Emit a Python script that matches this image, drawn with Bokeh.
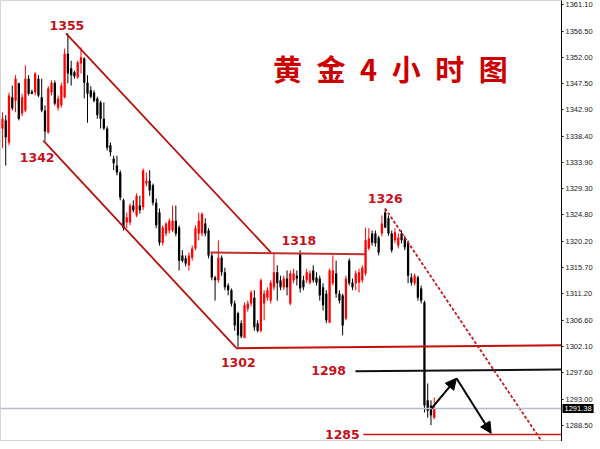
from bokeh.plotting import figure
from bokeh.models import (Range1d, FixedTicker, PrintfTickFormatter, Label, Arrow,
                          NormalHead, Span, ColumnDataSource)
from bokeh.embed import file_html
from bokeh.resources import INLINE
from bokeh.core.properties import value

# ---------------- data: 4-hour gold candles (price) ----------------
opens = [1339.7, 1341.1, 1337.3, 1345.1, 1344.5, 1347.5, 1342.3, 1342.8, 1348.3, 1346.1,
         1345.9, 1348.3, 1345.1, 1342.8, 1339.0, 1345.9, 1347.6, 1343.3, 1343.7, 1345.1,
         1352.6, 1350.1, 1349.4, 1348.5, 1350.9, 1351.8, 1347.6, 1346.3, 1345.9, 1344.9,
         1344.2, 1341.4, 1339.7, 1336.8, 1334.5, 1333.3, 1332.1, 1327.3, 1323.5, 1323.5,
         1326.4, 1324.7, 1326.4, 1326.1, 1330.2, 1330.7, 1329.9, 1326.9, 1325.2, 1320.0,
         1321.6, 1322.1, 1322.1, 1323.8, 1322.6, 1317.8, 1317.3, 1316.1, 1317.4, 1319.0,
         1321.6, 1321.6, 1323.3, 1322.1, 1317.8, 1314.0, 1313.5, 1317.4, 1314.9, 1312.6,
         1311.8, 1309.5, 1307.8, 1306.1, 1303.6, 1308.6, 1309.5, 1310.5, 1306.1, 1304.8,
         1309.5, 1310.5, 1310.0, 1312.3, 1314.9, 1313.5, 1312.3, 1313.8, 1309.5, 1313.5,
         1314.3, 1318.1, 1313.5, 1313.5, 1313.1, 1315.2, 1314.0, 1313.8, 1312.3, 1311.2,
         1306.2, 1313.0, 1314.7, 1311.2, 1310.9, 1306.9, 1316.9, 1313.1, 1313.0, 1313.1,
         1313.5, 1314.7, 1319.0, 1321.6, 1321.6, 1320.9, 1321.6, 1325.2, 1324.2, 1321.6,
         1320.4, 1319.5, 1321.6, 1320.7, 1319.9, 1314.0, 1313.0, 1314.0, 1312.1, 1309.7,
         1292.8, 1291.9, 1289.8]
highs = [1342.5, 1342.0, 1345.9, 1347.1, 1348.9, 1347.6, 1345.7, 1350.6, 1348.9, 1346.4,
         1349.4, 1348.9, 1348.3, 1343.7, 1347.0, 1348.0, 1348.0, 1345.4, 1347.6, 1353.5,
         1356.1, 1351.4, 1349.7, 1351.4, 1353.7, 1352.0, 1348.9, 1347.0, 1346.3, 1345.2,
         1344.5, 1344.2, 1340.1, 1337.3, 1335.0, 1335.0, 1332.5, 1327.6, 1325.2, 1326.8,
         1327.3, 1328.5, 1328.1, 1332.8, 1332.1, 1332.5, 1330.2, 1327.6, 1325.9, 1323.0,
         1323.5, 1324.2, 1326.4, 1326.4, 1323.0, 1318.7, 1317.8, 1318.3, 1319.5, 1323.0,
         1325.2, 1325.2, 1324.2, 1322.5, 1318.3, 1314.3, 1320.4, 1317.8, 1315.7, 1313.0,
         1312.1, 1310.0, 1308.1, 1306.6, 1309.7, 1310.0, 1311.8, 1311.8, 1306.6, 1313.8,
         1311.8, 1312.3, 1313.5, 1318.3, 1316.1, 1314.3, 1314.3, 1315.2, 1315.2, 1315.5,
         1315.2, 1318.7, 1314.3, 1315.5, 1315.2, 1316.1, 1314.9, 1314.3, 1313.0, 1311.8,
         1315.5, 1317.8, 1316.9, 1311.8, 1311.2, 1314.3, 1317.3, 1313.8, 1315.2, 1315.5,
         1316.1, 1322.6, 1322.5, 1322.1, 1322.1, 1321.2, 1324.7, 1325.9, 1324.7, 1322.1,
         1322.5, 1321.6, 1322.1, 1321.2, 1320.4, 1314.7, 1314.7, 1314.3, 1312.6, 1310.0,
         1295.7, 1292.8, 1293.3]
lows = [1336.3, 1333.3, 1336.8, 1342.8, 1342.5, 1341.1, 1341.8, 1342.5, 1345.4, 1345.6,
        1345.4, 1345.1, 1342.5, 1337.6, 1338.8, 1345.4, 1343.7, 1342.8, 1343.3, 1344.9,
        1347.5, 1347.1, 1348.3, 1348.3, 1349.2, 1344.9, 1340.7, 1344.9, 1344.2, 1341.4,
        1339.7, 1339.4, 1335.9, 1334.9, 1332.5, 1331.6, 1327.3, 1322.1, 1322.5, 1323.0,
        1325.2, 1324.4, 1325.0, 1325.6, 1329.7, 1328.1, 1326.4, 1322.5, 1319.5, 1319.5,
        1321.1, 1321.6, 1321.8, 1321.1, 1315.2, 1316.6, 1315.9, 1315.2, 1316.9, 1318.7,
        1320.4, 1321.1, 1321.1, 1317.3, 1313.5, 1310.0, 1313.1, 1314.3, 1311.8, 1310.9,
        1309.0, 1304.8, 1301.9, 1303.5, 1303.5, 1308.1, 1309.0, 1304.8, 1304.5, 1304.5,
        1306.6, 1310.0, 1309.5, 1311.8, 1310.0, 1311.8, 1311.8, 1310.9, 1309.2, 1313.0,
        1312.6, 1311.4, 1311.8, 1313.0, 1312.8, 1313.1, 1312.6, 1310.0, 1308.3, 1306.1,
        1306.1, 1312.6, 1310.5, 1309.5, 1304.0, 1306.6, 1312.6, 1311.8, 1311.8, 1311.4,
        1313.1, 1314.3, 1318.7, 1319.5, 1319.3, 1317.8, 1321.1, 1322.5, 1321.2, 1318.3,
        1319.9, 1319.0, 1319.9, 1318.7, 1313.0, 1312.6, 1312.6, 1310.0, 1309.5, 1290.7,
        1289.8, 1288.5, 1289.5]
closes = [1341.4, 1338.2, 1345.4, 1343.2, 1348.3, 1341.4, 1345.1, 1348.3, 1345.7, 1345.7,
          1349.2, 1345.4, 1342.8, 1339.2, 1346.6, 1347.6, 1344.0, 1344.9, 1347.1, 1352.6,
          1349.2, 1348.9, 1348.7, 1351.1, 1352.0, 1347.6, 1345.7, 1345.2, 1344.5, 1342.0,
          1341.4, 1339.7, 1336.4, 1335.6, 1333.7, 1332.1, 1327.8, 1322.5, 1324.4, 1326.4,
          1325.6, 1328.1, 1325.6, 1332.5, 1330.7, 1329.0, 1326.9, 1323.0, 1320.0, 1322.6,
          1323.3, 1323.8, 1323.8, 1321.6, 1316.9, 1316.9, 1316.4, 1317.8, 1319.0, 1322.5,
          1323.8, 1325.0, 1321.6, 1317.8, 1314.0, 1313.5, 1317.4, 1314.9, 1312.3, 1311.8,
          1309.5, 1305.7, 1304.0, 1303.8, 1309.2, 1309.5, 1311.4, 1305.4, 1304.8, 1313.5,
          1311.2, 1311.8, 1313.1, 1314.9, 1313.0, 1312.3, 1313.8, 1312.3, 1314.7, 1314.7,
          1313.8, 1312.1, 1312.3, 1314.9, 1314.7, 1313.5, 1313.1, 1310.9, 1309.2, 1306.6,
          1315.2, 1315.2, 1311.2, 1310.0, 1305.7, 1313.8, 1313.0, 1312.3, 1314.7, 1314.9,
          1315.7, 1320.4, 1320.7, 1320.0, 1319.9, 1318.3, 1323.3, 1322.6, 1321.6, 1318.7,
          1321.8, 1320.9, 1320.4, 1319.2, 1314.3, 1313.1, 1314.3, 1310.5, 1310.0, 1291.9,
          1291.0, 1290.2, 1291.4]

price_ticks = [1361.10, 1356.50, 1352.00, 1347.50, 1342.90, 1338.40, 1333.90, 1329.30,
               1324.80, 1320.20, 1315.70, 1311.20, 1306.60, 1302.10, 1297.60, 1293.00,
               1288.50]
last_price = 1291.38

# ---------------- annotation data (bar index, price) ----------------
channel_upper_x = [19.4, 82.1]
channel_upper_y = [1356.1, 1318.3]
channel_lower_x = [12.5, 71.4]
channel_lower_y = [1337.6, 1301.9]
res_1318_x = [63.6, 110.9]
res_1318_y = [1318.3, 1318.0]
sup_1302_x = [71.4, 171.5]
sup_1302_y = [1301.8, 1302.3]
lvl_1298_x = [107.9, 171.5]
lvl_1298_y = [1297.8, 1298.1]
lvl_1285_x = [110.3, 171.5]
lvl_1285_y = [1286.9, 1286.9]
trend_x = [117.0, 170.0]
trend_y = [1325.9, 1281.4]
path_x = [131.2, 138.8, 149.4]
path_y = [1291.4, 1296.6, 1287.1]

level_labels = ["1355", "1342", "1318", "1326", "1302", "1298", "1285"]
level_label_x = [19.7, 10.6, 90.6, 117.0, 72.1, 99.7, 103.9]
level_label_y = [1357.5, 1334.7, 1320.4, 1327.6, 1299.3, 1297.9, 1286.9]

title_text = "黄\u2002金\u20024\u2002小\u2002时\u2002图"
title_x, title_y = 118.6, 1350.2

X_LEFT, X_RIGHT = -0.6, 170.9
FRAME_W, FRAME_H = 561, 441

# ---------------- figure ----------------
p = figure(frame_width=FRAME_W, frame_height=FRAME_H, output_backend="svg", toolbar_location=None,
           x_range=Range1d(X_LEFT, X_RIGHT), y_range=Range1d(1285.69, 1361.79),
           y_axis_location="right", min_border_left=0, min_border_top=0,
           min_border_bottom=0, min_border_right=0)
p.xaxis.visible = False
p.grid.visible = False
p.outline_line_color = "#d6d6d6"
p.background_fill_color = "white"

yax = p.yaxis[0]
yax.ticker = FixedTicker(ticks=price_ticks)
yax.formatter = PrintfTickFormatter(format="%.2f")
yax.major_label_text_font = "Liberation Sans"
yax.major_label_text_font_size = "7.5px"
yax.major_label_text_color = "#222222"
yax.axis_line_color = "black"
yax.axis_line_width = 1
yax.major_tick_in = 0
yax.major_tick_out = 2
yax.minor_tick_out = 0
yax.minor_tick_in = 0
yax.major_label_standoff = 2

# current price line
p.add_layout(Span(location=last_price, dimension="width", line_color="#b4bcc8", line_width=1.5))

# candles
idx = list(range(len(opens)))
cols = ["#ff0000" if c >= o else "#000000" for o, c in zip(opens, closes)]
src = ColumnDataSource(dict(x=idx, o=opens, h=highs, l=lows, c=closes,
                            top=[max(o, c) for o, c in zip(opens, closes)],
                            bot=[min(o, c) for o, c in zip(opens, closes)],
                            col=cols))
p.segment(x0="x", y0="l", x1="x", y1="h", line_color="col", line_width=1, source=src)
p.vbar(x="x", width=0.7, top="top", bottom="bot", fill_color="col", line_color=None, source=src)

# trend lines / levels
p.line(channel_upper_x, channel_upper_y, line_color="#b5120f", line_width=1.8)
p.line(channel_lower_x, channel_lower_y, line_color="#b5120f", line_width=1.8)
p.line(res_1318_x, res_1318_y, line_color="#c0302a", line_width=2)
p.line(sup_1302_x, sup_1302_y, line_color="#c4100c", line_width=2)
p.line(lvl_1298_x, lvl_1298_y, line_color="#111111", line_width=2)
p.line(lvl_1285_x, lvl_1285_y, line_color="#d01612", line_width=1.6)
p.line(trend_x, trend_y, line_color="#c81818", line_width=1.8, line_dash="3 2")

# projected path arrows
for i in range(2):
    p.add_layout(Arrow(x_start=path_x[i], y_start=path_y[i], x_end=path_x[i + 1], y_end=path_y[i + 1],
                       line_color="black", line_width=2,
                       end=NormalHead(size=11, fill_color="black", line_color="black")))

# level labels
p.text(x=level_label_x, y=level_label_y, text=level_labels, text_align="center",
       text_baseline="middle", text_color="#c4121c", text_font=value("DejaVu Sans"),
       text_font_style="bold", text_font_size="12.5px")

# title
p.add_layout(Label(x=title_x, y=title_y, text=title_text, text_align="center",
                   text_baseline="middle", text_color="#cc0000",
                   text_font="Noto Sans CJK SC", text_font_style="bold",
                   text_font_size="29px"))

# last price tag on the axis (placed in the right panel so it is not clipped to the frame)
p.add_layout(Label(x=X_RIGHT, y=last_price, x_offset=1,
                   text="1291.38", text_align="left",
                   text_baseline="middle", text_color="white", text_font="Liberation Sans",
                   text_font_size="7.5px", background_fill_color="black", padding=2), "right")

open("out.html", "w").write(file_html(p, INLINE))
